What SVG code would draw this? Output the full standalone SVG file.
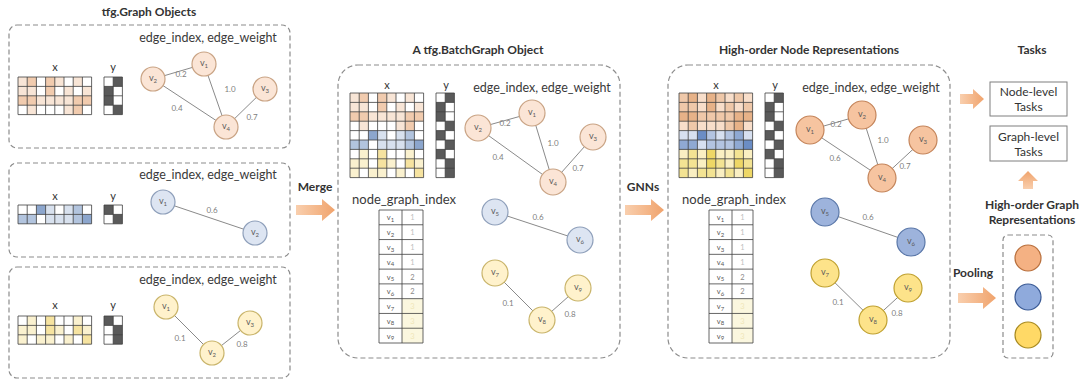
<svg xmlns="http://www.w3.org/2000/svg" xmlns:xlink="http://www.w3.org/1999/xlink" width="1080" height="383" viewBox="0 0 1080 383">
<style>
.t{font-family:Lato,"Liberation Sans",sans-serif;fill:#333}
.title{font-weight:bold;font-size:12px;text-anchor:middle}
.lbl{font-size:12.5px;text-anchor:middle;fill:#3a3a3a}
.xy{font-size:11px;text-anchor:middle;fill:#333}
.el{font-size:8px;fill:#808080;text-anchor:middle}
.nl{font-size:9px;fill:#5a5a5a;text-anchor:middle}
.sub{font-size:6px}
.tv{font-size:7.5px;fill:#555;text-anchor:middle}
.task{font-size:12px;text-anchor:middle;fill:#333}
.dash{fill:none;stroke:#8c8c8c;stroke-width:1.2;stroke-dasharray:5 3}
.edge{stroke:#8a8a8a;stroke-width:1}
.grid{fill:none;stroke:#3f3f3f;stroke-width:0.8}
.dk{fill:#5a5a5a}
.arrow{fill:url(#ag)}
.po{fill:#fbe5d6;stroke:#c9a384;stroke-width:1.2}
.pb{fill:#dde5f2;stroke:#8e9fba;stroke-width:1.2}
.py{fill:#fff2cc;stroke:#c9b46a;stroke-width:1.2}
.do{fill:#f6c4a0;stroke:#c4845a;stroke-width:1.2}
.db{fill:#9db3dc;stroke:#5a77a8;stroke-width:1.2}
.dy{fill:#fde38a;stroke:#bfa030;stroke-width:1.2}
.ro{fill:#f4b183;stroke:#b86f3c;stroke-width:1.2}
.rb{fill:#8faadc;stroke:#3a5a95;stroke-width:1.2}
.ry{fill:#ffd966;stroke:#a88a20;stroke-width:1.2}
.box{fill:#fff;stroke:#7f7f7f;stroke-width:1}
</style>
<defs>
<linearGradient id="ag" x1="0" y1="0" x2="1" y2="0">
<stop offset="0" stop-color="#f9cfae"/>
<stop offset="1" stop-color="#f0a36c"/>
</linearGradient>
<linearGradient id="agu" x1="0" y1="1" x2="0" y2="0">
<stop offset="0" stop-color="#f9cfae"/>
<stop offset="1" stop-color="#f0a36c"/>
</linearGradient>
<g id="mO">
<rect x="0" y="0" width="9.2" height="9.4" fill-opacity="0.3"/>
<rect x="9.2" y="0" width="9.2" height="9.4" fill-opacity="0.6"/>
<rect x="27.6" y="0" width="9.2" height="9.4" fill-opacity="0.6"/>
<rect x="36.8" y="0" width="9.2" height="9.4" fill-opacity="0.3"/>
<rect x="55.2" y="0" width="9.2" height="9.4" fill-opacity="0.3"/>
<rect x="0" y="9.4" width="9.2" height="9.4" fill-opacity="0.3"/>
<rect x="9.2" y="9.4" width="9.2" height="9.4" fill-opacity="0.3"/>
<rect x="27.6" y="9.4" width="9.2" height="9.4" fill-opacity="0.6"/>
<rect x="46" y="9.4" width="9.2" height="9.4" fill-opacity="0.3"/>
<rect x="64.4" y="9.4" width="9.2" height="9.4" fill-opacity="0.3"/>
<rect x="0" y="18.8" width="18.4" height="9.4" fill-opacity="0.6"/>
<rect x="18.4" y="18.8" width="36.8" height="9.4" fill-opacity="0.3"/>
<rect x="55.2" y="18.8" width="18.4" height="9.4" fill-opacity="0.6"/>
<rect x="9.2" y="28.2" width="9.2" height="9.4" fill-opacity="0.3"/>
<rect x="46" y="28.2" width="9.2" height="9.4" fill-opacity="0.3"/>
<rect x="55.2" y="28.2" width="9.2" height="9.4" fill-opacity="0.6"/>
</g>
<g id="mB">
<rect x="18.4" y="0" width="9.2" height="9.4" fill-opacity="0.9"/>
<rect x="27.6" y="0" width="9.2" height="9.4" fill-opacity="0.3"/>
<rect x="46" y="0" width="9.2" height="9.4" fill-opacity="0.3"/>
<rect x="55.2" y="0" width="9.2" height="9.4" fill-opacity="0.6"/>
<rect x="0" y="9.4" width="18.4" height="9.4" fill-opacity="0.6"/>
<rect x="27.6" y="9.4" width="27.6" height="9.4" fill-opacity="0.3"/>
<rect x="55.2" y="9.4" width="9.2" height="9.4" fill-opacity="0.6"/>
<rect x="64.4" y="9.4" width="9.2" height="9.4" fill-opacity="0.9"/>
</g>
<g id="mY">
<rect x="9.2" y="0" width="9.2" height="9.4" fill-opacity="0.3"/>
<rect x="27.6" y="0" width="9.2" height="9.4" fill-opacity="0.6"/>
<rect x="55.2" y="0" width="9.2" height="9.4" fill-opacity="0.3"/>
<rect x="0" y="9.4" width="18.4" height="9.4" fill-opacity="0.3"/>
<rect x="27.6" y="9.4" width="9.2" height="9.4" fill-opacity="0.6"/>
<rect x="36.8" y="9.4" width="9.2" height="9.4" fill-opacity="0.3"/>
<rect x="55.2" y="9.4" width="9.2" height="9.4" fill-opacity="0.6"/>
<rect x="64.4" y="9.4" width="9.2" height="9.4" fill-opacity="0.3"/>
<rect x="0" y="18.8" width="9.2" height="9.4" fill-opacity="0.3"/>
<rect x="18.4" y="18.8" width="18.4" height="9.4" fill-opacity="0.3"/>
<rect x="46" y="18.8" width="9.2" height="9.4" fill-opacity="0.3"/>
<rect x="64.4" y="18.8" width="9.2" height="9.4" fill-opacity="0.6"/>
</g>
<path id="g84" class="grid" d="M0 0H73.6V37.6H0Z M9.2 0V37.6 M18.4 0V37.6 M27.6 0V37.6 M36.8 0V37.6 M46 0V37.6 M55.2 0V37.6 M64.4 0V37.6 M0 9.4H73.6 M0 18.8H73.6 M0 28.2H73.6"/>
<path id="g82" class="grid" d="M0 0H73.6V18.8H0Z M9.2 0V18.8 M18.4 0V18.8 M27.6 0V18.8 M36.8 0V18.8 M46 0V18.8 M55.2 0V18.8 M64.4 0V18.8 M0 9.4H73.6"/>
<path id="g83" class="grid" d="M0 0H73.6V28.2H0Z M9.2 0V28.2 M18.4 0V28.2 M27.6 0V28.2 M36.8 0V28.2 M46 0V28.2 M55.2 0V28.2 M64.4 0V28.2 M0 9.4H73.6 M0 18.8H73.6"/>
<path id="g89" class="grid" d="M0 0H73.6V84.6H0Z M9.2 0V84.6 M18.4 0V84.6 M27.6 0V84.6 M36.8 0V84.6 M46 0V84.6 M55.2 0V84.6 M64.4 0V84.6 M0 9.4H73.6 M0 18.8H73.6 M0 28.2H73.6 M0 37.6H73.6 M0 47H73.6 M0 56.4H73.6 M0 65.8H73.6 M0 75.2H73.6"/>
<path id="gy2" class="grid" d="M0 0H18.4V18.8H0Z M9.2 0V18.8 M0 9.4H18.4"/>
<path id="gy3" class="grid" d="M0 0H18.4V28.2H0Z M9.2 0V28.2 M0 9.4H18.4 M0 18.8H18.4"/>
<path id="gy4" class="grid" d="M0 0H18.4V37.6H0Z M9.2 0V37.6 M0 9.4H18.4 M0 18.8H18.4 M0 28.2H18.4"/>
<path id="gy9" class="grid" d="M0 0H18.4V84.6H0Z M9.2 0V84.6 M0 9.4H18.4 M0 18.8H18.4 M0 28.2H18.4 M0 37.6H18.4 M0 47H18.4 M0 56.4H18.4 M0 65.8H18.4 M0 75.2H18.4"/>
<g id="yb" class="dk">
<rect x="9.2" y="0" width="9.2" height="9.4"/>
<rect x="0" y="9.4" width="9.2" height="18.8"/>
<rect x="9.2" y="28.2" width="9.2" height="9.4"/>
<rect x="0" y="37.6" width="9.2" height="9.4"/>
<rect x="9.2" y="47" width="9.2" height="9.4"/>
<rect x="0" y="56.4" width="9.2" height="9.4"/>
<rect x="9.2" y="65.8" width="9.2" height="18.8"/>
</g>
<g id="tbl">
<rect x="23" y="133" width="21" height="0" fill="none"/>
<rect x="23" y="88.7" width="21" height="44.3" fill="#fbf7df"/>
<path class="grid" d="M0 0H44V133H0Z M23 0V133 M0 14.78H44 M0 29.56H44 M0 44.33H44 M0 59.11H44 M0 73.89H44 M0 88.67H44 M0 103.44H44 M0 118.22H44"/>
</g>
</defs>

<rect width="1080" height="383" fill="#ffffff"/>

<!-- titles -->
<g id="titles">
<text class="t title" x="149" y="16">tfg.Graph Objects</text>
<text class="t title" x="478" y="54">A tfg.BatchGraph Object</text>
<text class="t title" x="809" y="54">High-order Node Representations</text>
<text class="t title" x="1032" y="54">Tasks</text>
</g>

<!-- panel boxes -->
<g id="containers">
<rect class="dash" x="9" y="25" width="281" height="123" rx="8"/>
<rect class="dash" x="9" y="163" width="281" height="94" rx="8"/>
<rect class="dash" x="9" y="267" width="281" height="111" rx="8"/>
<rect class="dash" x="338" y="65" width="282" height="293" rx="20"/>
<rect class="dash" x="668" y="65" width="282" height="293" rx="20"/>
<rect class="dash" x="1003" y="235" width="50" height="123" rx="5"/>
</g>

<!-- feature matrices -->
<g id="matrices">
<text class="t xy" x="55" y="71">x</text><text class="t xy" x="113" y="71">y</text>
<use href="#mO" x="18" y="77" fill="#e8a878"/><use href="#g84" x="18" y="77"/>
<g class="dk"><rect x="113.2" y="77" width="9.2" height="9.4"/><rect x="104" y="86.4" width="9.2" height="18.8"/><rect x="113.2" y="105.2" width="9.2" height="9.4"/></g>
<use href="#gy4" x="104" y="77"/>

<text class="t xy" x="55" y="200">x</text><text class="t xy" x="113" y="200">y</text>
<use href="#mB" x="18" y="205" fill="#7f9cc8"/><use href="#g82" x="18" y="205"/>
<g class="dk"><rect x="104" y="205" width="9.2" height="9.4"/><rect x="113.2" y="214.4" width="9.2" height="9.4"/></g>
<use href="#gy2" x="104" y="205"/>

<text class="t xy" x="55" y="309">x</text><text class="t xy" x="113" y="309">y</text>
<use href="#mY" x="18" y="316" fill="#f0d060"/><use href="#g83" x="18" y="316"/>
<g class="dk"><rect x="104" y="316" width="9.2" height="9.4"/><rect x="113.2" y="325.4" width="9.2" height="18.8"/></g>
<use href="#gy3" x="104" y="316"/>

<text class="t xy" x="387" y="89">x</text><text class="t xy" x="446" y="89">y</text>
<use href="#mO" x="350" y="93" fill="#e8a878"/>
<use href="#mB" x="350" y="130.6" fill="#7f9cc8"/>
<use href="#mY" x="350" y="149.4" fill="#f0d060"/>
<use href="#g89" x="350" y="93"/>
<use href="#yb" x="436" y="93"/><use href="#gy9" x="436" y="93"/>

<text class="t xy" x="716" y="89">x</text><text class="t xy" x="775" y="89">y</text>
<rect x="679" y="93" width="73.6" height="37.6" fill="#f3c8a6" fill-opacity="0.6"/>
<rect x="679" y="130.6" width="73.6" height="18.8" fill="#bccbe6" fill-opacity="0.6"/>
<rect x="679" y="149.4" width="73.6" height="28.2" fill="#f6e59a" fill-opacity="0.6"/>
<use href="#mO" x="679" y="93" fill="#dc945c"/>
<use href="#mB" x="679" y="130.6" fill="#5f84c0"/>
<use href="#mY" x="679" y="149.4" fill="#e6c628"/>
<use href="#g89" x="679" y="93"/>
<use href="#yb" x="765" y="93"/><use href="#gy9" x="765" y="93"/>
</g>

<!-- labels -->
<g id="labels">
<text class="t lbl" x="208" y="42">edge_index, edge_weight</text>
<text class="t lbl" x="208" y="179">edge_index, edge_weight</text>
<text class="t lbl" x="208" y="284">edge_index, edge_weight</text>
<text class="t lbl" x="542" y="92">edge_index, edge_weight</text>
<text class="t lbl" x="871" y="92">edge_index, edge_weight</text>
<text class="t lbl" x="352" y="204" style="text-anchor:start;font-size:13px">node_graph_index</text>
<text class="t lbl" x="682" y="204" style="text-anchor:start;font-size:13px">node_graph_index</text>
</g>

<!-- node_graph_index tables -->
<g id="table-batch">
<use href="#tbl" x="379" y="210"/>
<text class="t tv" x="390.5" y="220.4">v<tspan class="sub" dy="1.5">1</tspan></text>
<text class="t tv" x="390.5" y="235.2">v<tspan class="sub" dy="1.5">2</tspan></text>
<text class="t tv" x="390.5" y="250">v<tspan class="sub" dy="1.5">3</tspan></text>
<text class="t tv" x="390.5" y="264.7">v<tspan class="sub" dy="1.5">4</tspan></text>
<text class="t tv" x="390.5" y="279.5">v<tspan class="sub" dy="1.5">5</tspan></text>
<text class="t tv" x="390.5" y="294.3">v<tspan class="sub" dy="1.5">6</tspan></text>
<text class="t tv" x="390.5" y="309.1">v<tspan class="sub" dy="1.5">7</tspan></text>
<text class="t tv" x="390.5" y="323.9">v<tspan class="sub" dy="1.5">8</tspan></text>
<text class="t tv" x="390.5" y="338.6">v<tspan class="sub" dy="1.5">9</tspan></text>
<text class="t tv" x="412.5" y="220.4" style="fill:#c0c0c0">1</text>
<text class="t tv" x="412.5" y="235.2" style="fill:#c0c0c0">1</text>
<text class="t tv" x="412.5" y="250" style="fill:#c0c0c0">1</text>
<text class="t tv" x="412.5" y="264.7" style="fill:#c0c0c0">1</text>
<text class="t tv" x="412.5" y="279.5" style="fill:#8a8a8a">2</text>
<text class="t tv" x="412.5" y="294.3" style="fill:#8a8a8a">2</text>
<text class="t tv" x="412.5" y="309.1" style="fill:#efe6b8">3</text>
<text class="t tv" x="412.5" y="323.9" style="fill:#efe6b8">3</text>
<text class="t tv" x="412.5" y="338.6" style="fill:#efe6b8">3</text>
</g>
<g id="table-high">
<use href="#tbl" x="709" y="210"/>
<text class="t tv" x="720.5" y="220.4">v<tspan class="sub" dy="1.5">1</tspan></text>
<text class="t tv" x="720.5" y="235.2">v<tspan class="sub" dy="1.5">2</tspan></text>
<text class="t tv" x="720.5" y="250">v<tspan class="sub" dy="1.5">3</tspan></text>
<text class="t tv" x="720.5" y="264.7">v<tspan class="sub" dy="1.5">4</tspan></text>
<text class="t tv" x="720.5" y="279.5">v<tspan class="sub" dy="1.5">5</tspan></text>
<text class="t tv" x="720.5" y="294.3">v<tspan class="sub" dy="1.5">6</tspan></text>
<text class="t tv" x="720.5" y="309.1">v<tspan class="sub" dy="1.5">7</tspan></text>
<text class="t tv" x="720.5" y="323.9">v<tspan class="sub" dy="1.5">8</tspan></text>
<text class="t tv" x="720.5" y="338.6">v<tspan class="sub" dy="1.5">9</tspan></text>
<text class="t tv" x="742.5" y="220.4" style="fill:#c0c0c0">1</text>
<text class="t tv" x="742.5" y="235.2" style="fill:#c0c0c0">1</text>
<text class="t tv" x="742.5" y="250" style="fill:#c0c0c0">1</text>
<text class="t tv" x="742.5" y="264.7" style="fill:#c0c0c0">1</text>
<text class="t tv" x="742.5" y="279.5" style="fill:#8a8a8a">2</text>
<text class="t tv" x="742.5" y="294.3" style="fill:#8a8a8a">2</text>
<text class="t tv" x="742.5" y="309.1" style="fill:#efe6b8">3</text>
<text class="t tv" x="742.5" y="323.9" style="fill:#efe6b8">3</text>
<text class="t tv" x="742.5" y="338.6" style="fill:#efe6b8">3</text>
</g>

<!-- connectors -->
<g id="connectors">
<g class="edge">
<line x1="153" y1="79" x2="204" y2="64"/><line x1="204" y1="64" x2="226" y2="127"/><line x1="153" y1="79" x2="226" y2="127"/><line x1="226" y1="127" x2="265" y2="89"/>
<line x1="163" y1="202" x2="255" y2="233"/>
<line x1="166" y1="307" x2="212" y2="353"/><line x1="212" y1="353" x2="250" y2="323"/>
<line x1="478" y1="128" x2="532" y2="113"/><line x1="532" y1="113" x2="553" y2="182"/><line x1="478" y1="128" x2="553" y2="182"/><line x1="553" y1="182" x2="593" y2="137"/>
<line x1="495" y1="212" x2="580" y2="240"/>
<line x1="495" y1="273" x2="542" y2="320"/><line x1="542" y1="320" x2="578" y2="288"/>
<line x1="810" y1="130" x2="862" y2="115"/><line x1="862" y1="115" x2="882" y2="178"/><line x1="810" y1="130" x2="882" y2="178"/><line x1="882" y1="178" x2="923" y2="140"/>
<line x1="825" y1="212" x2="911" y2="242"/>
<line x1="825" y1="273" x2="873" y2="320"/><line x1="873" y1="320" x2="908" y2="288"/>
</g>
<g id="edge-labels">
<text class="t el" x="181" y="77">0.2</text><text class="t el" x="230" y="92">1.0</text><text class="t el" x="177" y="111">0.4</text><text class="t el" x="252" y="120">0.7</text>
<text class="t el" x="212" y="213">0.6</text>
<text class="t el" x="180" y="341">0.1</text><text class="t el" x="242" y="347">0.8</text>
<text class="t el" x="505" y="126">0.2</text><text class="t el" x="553" y="146">1.0</text><text class="t el" x="498" y="160">0.4</text><text class="t el" x="578" y="171">0.7</text>
<text class="t el" x="538" y="220">0.6</text>
<text class="t el" x="508" y="306">0.1</text><text class="t el" x="570" y="317">0.8</text>
<text class="t el" x="836" y="127">0.2</text><text class="t el" x="883" y="143">1.0</text><text class="t el" x="835" y="161">0.6</text><text class="t el" x="905" y="169">0.7</text>
<text class="t el" x="868" y="220">0.6</text>
<text class="t el" x="838" y="305">0.1</text><text class="t el" x="897" y="316">0.8</text>
</g>
<g id="flow-arrows">
<path class="arrow" d="M296 205H322V199L335 210L322 221V215H296Z"/>
<path class="arrow" d="M625 205H651V199L664 210L651 221V215H625Z"/>
<path class="arrow" d="M958 293H983V287L996 298L983 309V303H958Z"/>
<path class="arrow" d="M960 94H973V89L984 99L973 109V104H960Z"/>
<path d="M1023 189V181H1018L1028 171L1038 181H1033V189Z" fill="url(#agu)"/>
<text class="t title" x="315" y="191">Merge</text>
<text class="t title" x="643" y="191">GNNs</text>
<text class="t title" x="973" y="277">Pooling</text>
</g>
</g>

<!-- graph nodes -->
<g id="g1-v2"><circle class="po" cx="153" cy="79" r="12"/><text class="t nl" x="153" y="81">v<tspan class="sub" dy="2">2</tspan></text></g>
<g id="g1-v1"><circle class="po" cx="204" cy="64" r="12"/><text class="t nl" x="204" y="66">v<tspan class="sub" dy="2">1</tspan></text></g>
<g id="g1-v3"><circle class="po" cx="265" cy="89" r="12"/><text class="t nl" x="265" y="91">v<tspan class="sub" dy="2">3</tspan></text></g>
<g id="g1-v4"><circle class="po" cx="226" cy="127" r="12"/><text class="t nl" x="226" y="129">v<tspan class="sub" dy="2">4</tspan></text></g>
<g id="g2-v1"><circle class="pb" cx="163" cy="202" r="12"/><text class="t nl" x="163" y="204">v<tspan class="sub" dy="2">1</tspan></text></g>
<g id="g2-v2"><circle class="pb" cx="255" cy="233" r="12"/><text class="t nl" x="255" y="235">v<tspan class="sub" dy="2">2</tspan></text></g>
<g id="g3-v1"><circle class="py" cx="166" cy="307" r="12"/><text class="t nl" x="166" y="309">v<tspan class="sub" dy="2">1</tspan></text></g>
<g id="g3-v2"><circle class="py" cx="212" cy="353" r="12"/><text class="t nl" x="212" y="355">v<tspan class="sub" dy="2">2</tspan></text></g>
<g id="g3-v3"><circle class="py" cx="250" cy="323" r="12"/><text class="t nl" x="250" y="325">v<tspan class="sub" dy="2">3</tspan></text></g>

<g id="b-v2"><circle class="po" cx="478" cy="128" r="13"/><text class="t nl" x="478" y="130">v<tspan class="sub" dy="2">2</tspan></text></g>
<g id="b-v1"><circle class="po" cx="532" cy="113" r="13"/><text class="t nl" x="532" y="115">v<tspan class="sub" dy="2">1</tspan></text></g>
<g id="b-v3"><circle class="po" cx="593" cy="137" r="13"/><text class="t nl" x="593" y="139">v<tspan class="sub" dy="2">3</tspan></text></g>
<g id="b-v4"><circle class="po" cx="553" cy="182" r="13"/><text class="t nl" x="553" y="184">v<tspan class="sub" dy="2">4</tspan></text></g>
<g id="b-v5"><circle class="pb" cx="495" cy="212" r="13"/><text class="t nl" x="495" y="214">v<tspan class="sub" dy="2">5</tspan></text></g>
<g id="b-v6"><circle class="pb" cx="580" cy="240" r="13"/><text class="t nl" x="580" y="242">v<tspan class="sub" dy="2">6</tspan></text></g>
<g id="b-v7"><circle class="py" cx="495" cy="273" r="13"/><text class="t nl" x="495" y="275">v<tspan class="sub" dy="2">7</tspan></text></g>
<g id="b-v8"><circle class="py" cx="542" cy="320" r="13"/><text class="t nl" x="542" y="322">v<tspan class="sub" dy="2">8</tspan></text></g>
<g id="b-v9"><circle class="py" cx="578" cy="288" r="13"/><text class="t nl" x="578" y="290">v<tspan class="sub" dy="2">9</tspan></text></g>

<g id="h-v1"><circle class="do" cx="810" cy="130" r="14"/><text class="t nl" x="810" y="132">v<tspan class="sub" dy="2">1</tspan></text></g>
<g id="h-v2"><circle class="do" cx="862" cy="115" r="14"/><text class="t nl" x="862" y="117">v<tspan class="sub" dy="2">2</tspan></text></g>
<g id="h-v3"><circle class="do" cx="923" cy="140" r="14"/><text class="t nl" x="923" y="142">v<tspan class="sub" dy="2">3</tspan></text></g>
<g id="h-v4"><circle class="do" cx="882" cy="178" r="14"/><text class="t nl" x="882" y="180">v<tspan class="sub" dy="2">4</tspan></text></g>
<g id="h-v5"><circle class="db" cx="825" cy="212" r="14"/><text class="t nl" x="825" y="214">v<tspan class="sub" dy="2">5</tspan></text></g>
<g id="h-v6"><circle class="db" cx="911" cy="242" r="14"/><text class="t nl" x="911" y="244">v<tspan class="sub" dy="2">6</tspan></text></g>
<g id="h-v7"><circle class="dy" cx="825" cy="273" r="14"/><text class="t nl" x="825" y="275">v<tspan class="sub" dy="2">7</tspan></text></g>
<g id="h-v8"><circle class="dy" cx="873" cy="320" r="14"/><text class="t nl" x="873" y="322">v<tspan class="sub" dy="2">8</tspan></text></g>
<g id="h-v9"><circle class="dy" cx="908" cy="288" r="14"/><text class="t nl" x="908" y="290">v<tspan class="sub" dy="2">9</tspan></text></g>

<!-- tasks -->
<g id="node-level-tasks"><rect class="box" x="990" y="82" width="77" height="34"/><text class="t task" x="1028.5" y="96">Node-level</text><text class="t task" x="1028.5" y="111">Tasks</text></g>
<g id="graph-level-tasks"><rect class="box" x="990" y="126" width="77" height="35"/><text class="t task" x="1028.5" y="141">Graph-level</text><text class="t task" x="1028.5" y="156">Tasks</text></g>
<g id="graph-reps">
<text class="t title" x="1032" y="209">High-order Graph</text>
<text class="t title" x="1032" y="224">Representations</text>
<circle class="ro" cx="1028" cy="258" r="13"/>
<circle class="rb" cx="1028" cy="297" r="13"/>
<circle class="ry" cx="1028" cy="335" r="13"/>
</g>
</svg>
